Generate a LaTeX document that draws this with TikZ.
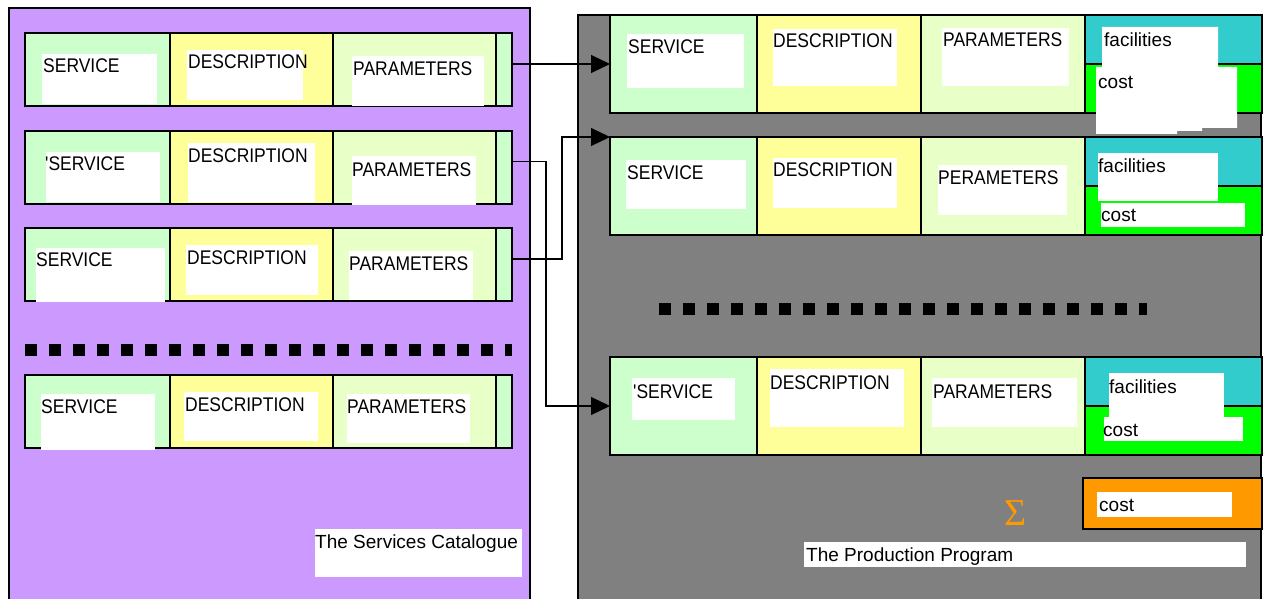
\documentclass[tikz,border=0pt]{standalone}
\usepackage{fontspec}
\usepackage{graphicx}
\setmainfont{Liberation Sans}
\newfontfamily\rawsans{Liberation Sans}
\newfontfamily\sigmafont{Liberation Serif}
\usetikzlibrary{arrows.meta,calc}

\definecolor{catpurple}{RGB}{204,153,255}
\definecolor{progray}{RGB}{128,128,128}
\definecolor{svcgreen}{RGB}{204,255,204}
\definecolor{descyellow}{RGB}{255,255,153}
\definecolor{paramgreen}{RGB}{232,255,200}
\definecolor{facicyan}{RGB}{51,204,204}
\definecolor{costgreen}{RGB}{0,255,0}
\definecolor{sumorange}{RGB}{255,153,0}

% upper-case labels are set slightly condensed
\newcommand\capl[1]{\scalebox{0.92}[1.04]{#1}}
% straight apostrophe
\newcommand\tick{{\rawsans'}}

% one row of the catalogue: #1 name prefix, #2 top edge
\newcommand\catrow[2]{%
  \node[cell, fill=svcgreen,   minimum width=145pt, minimum height=73pt] (#1s) at (25,#2) {};
  \node[cell, fill=descyellow, minimum width=163pt, minimum height=73pt] (#1d) at (#1s.north east) {};
  \node[cell, fill=paramgreen, minimum width=163pt, minimum height=73pt] (#1p) at (#1d.north east) {};
  \node[cell, fill=svcgreen,   minimum width=16pt,  minimum height=73pt] (#1x) at (#1p.north east) {};
}
% one row of the production program: #1 name prefix, #2 top edge
\newcommand\progrow[2]{%
  \node[cell, fill=svcgreen,   minimum width=147pt, minimum height=98pt] (#1s) at (610,#2) {};
  \node[cell, fill=descyellow, minimum width=164pt, minimum height=98pt] (#1d) at (#1s.north east) {};
  \node[cell, fill=paramgreen, minimum width=164pt, minimum height=98pt] (#1p) at (#1d.north east) {};
  \node[cell, fill=facicyan,   minimum width=177pt, minimum height=49pt] (#1f) at (#1p.north east) {};
  \node[cell, fill=costgreen,  minimum width=177pt, minimum height=49pt] (#1c) at (#1f.south west) {};
}

\begin{document}
\begin{tikzpicture}[x=1pt,y=-1pt,
  cell/.style={draw=black, line width=1.2pt, inner sep=0pt, outer sep=0pt, anchor=north west},
  pad/.style={fill=white},
  lbl/.style={anchor=base west, inner sep=0pt, text=black, font=\fontsize{19}{22}\selectfont},
  panel/.style={draw=black, line width=1.2pt},
  dotrow/.style={line width=12pt, dash pattern=on 12pt off 12pt},
  link/.style={draw=black, line width=1.1pt, -{Triangle[length=19pt,width=18pt]}}]

\path[use as bounding box] (0,0) rectangle (1267,599);
\clip (0,0) rectangle (1267,599);

% ---------- panels ----------
\path[panel, fill=catpurple] (9,8) rectangle (530,640);
\path[panel, fill=progray] (578,15) rectangle (1261,640);

% ---------- the services catalogue ----------
\catrow{la}{33}
\catrow{lb}{131}
\catrow{lc}{228}
\catrow{ld}{375}

\fill[pad] (42,54) rectangle (157,104);
\fill[pad] (187,50) rectangle (303,100);
\fill[pad] (352,56) rectangle (484,106);
\fill[pad] (46,152) rectangle (160,202);
\fill[pad] (188,143) rectangle (315,202);
\fill[pad] (352,156) rectangle (476,205);
\fill[pad] (36,248) rectangle (165,302);
\fill[pad] (186,245) rectangle (318,295);
\fill[pad] (349,251) rectangle (473,300);
\fill[pad] (41,394) rectangle (155,450);
\fill[pad] (184,392) rectangle (318,441);
\fill[pad] (347,394) rectangle (470,443);
\fill[pad] (315,529) rectangle (522,577);

\node[lbl] (ta1) at (43,73) {\capl{SERVICE}};
\node[lbl] (tb1) at (188,69) {\capl{DESCRIPTION}};
\node[lbl] (tc1) at (353,75.5) {\capl{PARAMETERS}};
\node[lbl] (ta2) at (45,171) {\capl{\tick SERVICE}};
\node[lbl] (tb2) at (188,163) {\capl{DESCRIPTION}};
\node[lbl] (tc2) at (352,176) {\capl{PARAMETERS}};
\node[lbl] (ta3) at (36,266.5) {\capl{SERVICE}};
\node[lbl] (tb3) at (187,264.5) {\capl{DESCRIPTION}};
\node[lbl] (tc3) at (349,270) {\capl{PARAMETERS}};
\node[lbl] (ta4) at (41,413) {\capl{SERVICE}};
\node[lbl] (tb4) at (185,411.5) {\capl{DESCRIPTION}};
\node[lbl] (tc4) at (347,413) {\capl{PARAMETERS}};
\node[lbl] (cattitle) at (315,548) {The Services Catalogue};

\draw[dotrow] (25,349.5) -- (512,349.5);

% ---------- the production program ----------
\progrow{ra}{15}
\progrow{rb}{137}
\progrow{rc}{357}

\fill[pad] (627,34) rectangle (744,88);
\fill[pad] (773,29) rectangle (897,86);
\fill[pad] (942,28) rectangle (1069,86);
\fill[pad] (1102,27) -- (1218,27) -- (1218,67) -- (1237,67) -- (1237,128)
  -- (1202,128) -- (1202,131) -- (1177,131) -- (1177,134) -- (1096,134)
  -- (1096,67) -- (1102,67) -- cycle;
\fill[pad] (626,160) rectangle (746,209);
\fill[pad] (773,158) rectangle (897,208);
\fill[pad] (938,165) rectangle (1067,215);
\fill[pad] (1098,153) rectangle (1218,201);
\fill[pad] (1101,203) rectangle (1245,227);
\fill[pad] (632,378) rectangle (735,420);
\fill[pad] (770,369) rectangle (904,427);
\fill[pad] (932,378) rectangle (1077,427);
\fill[pad] (1109,373) rectangle (1224,418);
\fill[pad] (1104,417) rectangle (1243,441);

\node[lbl] (sa1) at (628,54) {\capl{SERVICE}};
\node[lbl] (sb1) at (773,48) {\capl{DESCRIPTION}};
\node[lbl] (sc1) at (943,47) {\capl{PARAMETERS}};
\node[lbl] (sf1) at (1104,46.5) {facilities};
\node[lbl] (sk1) at (1098,89) {cost};
\node[lbl] (sa2) at (627,179) {\capl{SERVICE}};
\node[lbl] (sb2) at (773,177) {\capl{DESCRIPTION}};
\node[lbl] (sc2) at (938,185) {\capl{PERAMETERS}};
\node[lbl] (sf2) at (1098,172) {facilities};
\node[lbl] (sk2) at (1101,222) {cost};
\node[lbl] (sa3) at (633,398) {\capl{\tick SERVICE}};
\node[lbl] (sb3) at (770,389) {\capl{DESCRIPTION}};
\node[lbl] (sc3) at (933,398) {\capl{PARAMETERS}};
\node[lbl] (sf3) at (1109,393) {facilities};
\node[lbl] (sk3) at (1103,436) {cost};

\draw[dotrow] (659,308.5) -- (1147,308.5);

% total cost
\node[cell, fill=sumorange, minimum width=179pt, minimum height=51pt] (total) at (1083,478) {};
\fill[pad] (1097,492) rectangle (1232,517);
\node[lbl] (totalcost) at (1099,511) {cost};
\node[text=sumorange, inner sep=0pt, font=\sigmafont\fontsize{38}{38}\selectfont] (sum) at (1016,513) {Σ};

\fill[pad] (804,542) rectangle (1246,567);
\node[lbl] (progtitle) at (806,561) {The Production Program};

% ---------- links from catalogue rows to program rows ----------
\coordinate (oa) at (lax.east |- ras.west);
\coordinate (ob) at ($(lbx.east)+(0,-6)$);
\coordinate (oc) at ($(lcx.east)+(0,-5.5)$);
\draw[link] (oa) -- (ras.west);
\draw[link] (ob) -- ++(34,0) |- (rcs.west);
\draw[link] (oc) -- ++(50,0) |- (rbs.north west);

\end{tikzpicture}
\end{document}
